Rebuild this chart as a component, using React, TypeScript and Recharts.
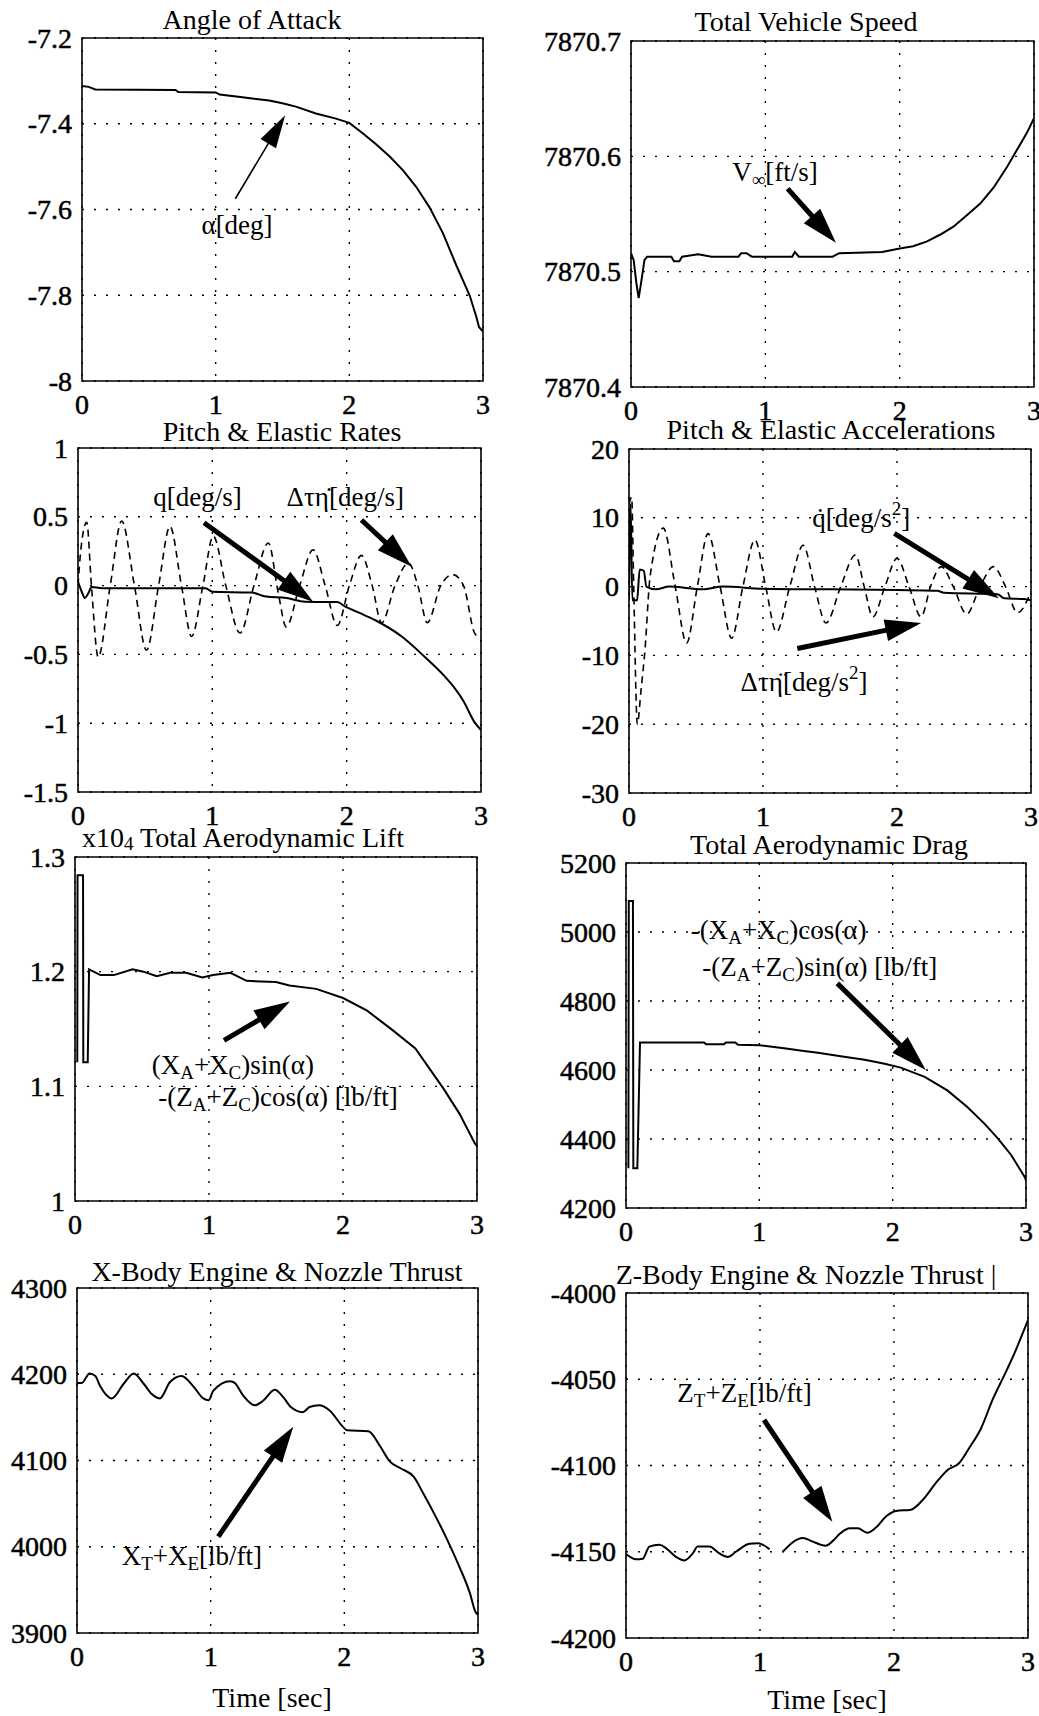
import React from "react";
import {
  LineChart,
  Line,
  XAxis,
  YAxis,
  CartesianGrid,
  ReferenceArea,
  ReferenceLine,
  ReferenceDot,
} from "recharts";

const FONT = '"Liberation Serif", "Times New Roman", serif';
const timeTicks = [0, 1, 2, 3];

// Angle of Attack
const alphaTicks = [-8, -7.8, -7.6, -7.4, -7.2];
const alphaDeg = [
  [0, -7.312], [0.05, -7.314], [0.1, -7.32], [0.7, -7.321], [0.72, -7.326], [1.0, -7.327],
  [1.03, -7.332], [1.2, -7.338], [1.4, -7.346], [1.5, -7.352], [1.6, -7.36], [1.75, -7.376],
  [1.9, -7.388], [2.0, -7.398], [2.1, -7.422], [2.2, -7.448], [2.3, -7.476], [2.4, -7.508],
  [2.5, -7.547], [2.6, -7.595], [2.7, -7.655], [2.8, -7.73], [2.9, -7.8], [2.95, -7.85],
  [2.97, -7.874], [3.0, -7.885],
];

// Total vehicle speed
const speedTicks = [7870.4, 7870.5, 7870.6, 7870.7];
const speed = [
  [0, 7870.516], [0.02, 7870.51], [0.04, 7870.49], [0.057, 7870.477], [0.075, 7870.49],
  [0.1, 7870.51], [0.12, 7870.513], [0.3, 7870.513], [0.32, 7870.509], [0.36, 7870.509],
  [0.38, 7870.513], [0.5, 7870.515], [0.6, 7870.513], [0.8, 7870.513], [0.82, 7870.516],
  [0.86, 7870.516], [0.9, 7870.513], [1.2, 7870.513], [1.22, 7870.517], [1.25, 7870.513],
  [1.5, 7870.513], [1.55, 7870.516], [1.87, 7870.517], [2.0, 7870.52], [2.1, 7870.522],
  [2.2, 7870.526], [2.3, 7870.532], [2.4, 7870.539], [2.5, 7870.549], [2.6, 7870.559],
  [2.7, 7870.573], [2.8, 7870.591], [2.9, 7870.611], [2.95, 7870.621], [3.0, 7870.633],
];

// Pitch & elastic rates
const rateTicks = [-1.5, -1, -0.5, 0, 0.5, 1];
const pitchRate = [
  [0, 0.03], [0.03, -0.05], [0.05, -0.09], [0.08, -0.05], [0.1, -0.01], [0.2, -0.02],
  [0.95, -0.02], [1.0, -0.045], [1.29, -0.05], [1.4, -0.08], [1.55, -0.09], [1.69, -0.117],
  [1.93, -0.12], [1.99, -0.153], [2.1, -0.2], [2.21, -0.25], [2.41, -0.37], [2.58, -0.517],
  [2.73, -0.66], [2.8, -0.74], [2.87, -0.84], [2.95, -0.99], [3.0, -1.05],
];
const elasticRate = [
  [0, 0.0], [0.02, 0.25], [0.065, 0.46], [0.1, 0.0], [0.15, -0.52], [0.24, 0.0], [0.325, 0.47],
  [0.42, 0.0], [0.51, -0.47], [0.6, 0.0], [0.685, 0.43], [0.77, 0.0], [0.846, -0.37],
  [0.93, 0.0], [1.007, 0.36], [1.1, 0.0], [1.206, -0.345], [1.31, 0.0], [1.417, 0.31],
  [1.49, -0.05], [1.55, -0.3], [1.65, 0.0], [1.75, 0.26], [1.84, 0.0], [1.93, -0.29],
  [2.02, 0.0], [2.11, 0.22], [2.19, 0.0], [2.26, -0.27], [2.36, 0.0], [2.46, 0.165],
  [2.53, 0.0], [2.6, -0.27], [2.7, 0.0], [2.79, 0.08], [2.87, 0.0], [2.955, -0.35], [3.0, -0.38],
];

// Pitch & elastic accelerations
const accTicks = [-30, -20, -10, 0, 10, 20];
const pitchAcc = [
  [0, -2], [0.012, 12], [0.025, -2], [0.06, -2], [0.08, 2.5], [0.11, 2.3], [0.13, 0],
  [0.2, -0.4], [0.3, 0], [0.55, -0.4], [0.7, 0], [1.0, -0.3], [1.5, -0.4], [2.0, -0.5],
  [2.3, -0.6], [2.35, -0.9], [2.75, -1.1], [2.8, -1.7], [2.95, -1.8], [3.0, -2.0],
];
const elasticAcc = [
  [0, 12], [0.02, 13], [0.035, 0], [0.062, -20], [0.09, -15], [0.12, -9], [0.157, 1.4],
  [0.256, 8.5], [0.345, 0], [0.43, -8.2], [0.51, 0], [0.59, 7.7], [0.68, 0], [0.766, -7.5],
  [0.85, 0], [0.94, 6.8], [1.02, 0], [1.1, -6.6], [1.2, 0], [1.3, 6.0], [1.385, 0],
  [1.47, -5.3], [1.58, 0], [1.69, 4.6], [1.755, 0], [1.82, -4.4], [1.91, 0], [2.0, 4.1],
  [2.09, 0], [2.18, -4.4], [2.25, 0], [2.33, 2.9], [2.42, 0], [2.52, -4.0], [2.62, 0],
  [2.72, 2.9], [2.81, 0], [2.9, -3.8], [3.0, -0.7],
];

// Total aerodynamic lift (x10^4)
const liftTicks = [1, 1.1, 1.2, 1.3];
const lift = [
  [0.017, 1.121], [0.019, 1.284], [0.06, 1.284], [0.062, 1.121], [0.095, 1.121], [0.105, 1.202],
  [0.19, 1.197], [0.29, 1.197], [0.43, 1.202], [0.51, 1.2], [0.61, 1.196], [0.71, 1.199],
  [0.83, 1.199], [0.95, 1.195], [1.03, 1.197], [1.16, 1.199], [1.28, 1.192], [1.5, 1.191],
  [1.6, 1.188], [1.8, 1.185], [2.0, 1.177], [2.18, 1.166], [2.37, 1.149], [2.54, 1.133],
  [2.75, 1.098], [2.87, 1.076], [2.985, 1.05], [3.0, 1.048],
];

// Total aerodynamic drag
const dragTicks = [4200, 4400, 4600, 4800, 5000, 5200];
const drag = [
  [0.018, 4315], [0.021, 5090], [0.052, 5090], [0.055, 4315], [0.085, 4315], [0.105, 4680],
  [0.585, 4680], [0.6, 4675], [0.735, 4675], [0.75, 4680], [0.82, 4680], [0.84, 4673],
  [1.0, 4672], [1.2, 4662], [1.32, 4656], [1.44, 4650], [1.61, 4640], [1.79, 4630],
  [1.94, 4618], [2.06, 4607], [2.24, 4580], [2.41, 4541], [2.56, 4493], [2.69, 4444],
  [2.79, 4401], [2.89, 4353], [2.99, 4290], [3.0, 4280],
];

// X-body engine & nozzle thrust
const xThrustTicks = [3900, 4000, 4100, 4200, 4300];
const xThrust = [
  [0, 4190], [0.036, 4190], [0.094, 4201], [0.137, 4198], [0.174, 4186], [0.261, 4172],
  [0.349, 4189], [0.424, 4201], [0.499, 4189], [0.559, 4177], [0.62, 4172], [0.696, 4191],
  [0.783, 4198], [0.87, 4186], [0.945, 4172], [0.985, 4170], [1.02, 4181], [1.145, 4192],
  [1.18, 4190], [1.24, 4176], [1.33, 4164], [1.39, 4169], [1.48, 4182], [1.54, 4174],
  [1.6, 4162], [1.69, 4156], [1.74, 4162], [1.81, 4164], [1.89, 4158], [1.99, 4139],
  [2.02, 4135], [2.18, 4134], [2.27, 4116], [2.34, 4099], [2.42, 4091], [2.52, 4081],
  [2.59, 4062], [2.67, 4039], [2.77, 4008], [2.86, 3977], [2.94, 3946], [2.98, 3925], [3.0, 3921],
];

// Z-body engine & nozzle thrust
const zThrustTicks = [-4200, -4150, -4100, -4050, -4000];
const zThrust = [
  [0, -4151.3], [0.075, -4154.4], [0.125, -4154], [0.174, -4147], [0.249, -4146], [0.3, -4148],
  [0.373, -4153], [0.435, -4155], [0.498, -4151], [0.535, -4147], [0.622, -4147], [0.697, -4151],
  [0.76, -4153], [0.82, -4150], [0.92, -4145.4], [0.985, -4145], [1.07, -4148.5], [1.12, null],
  [1.17, -4150], [1.32, -4142], [1.39, -4144], [1.49, -4146.5], [1.54, -4144], [1.6, -4139.3],
  [1.67, -4136.4], [1.73, -4136.4], [1.8, -4139], [1.865, -4136], [1.94, -4129.6],
  [2.015, -4126.4], [2.127, -4125.6], [2.214, -4120], [2.31, -4110.4], [2.4, -4102.6],
  [2.485, -4098.7], [2.56, -4090], [2.65, -4078.4], [2.735, -4062], [2.836, -4045.6],
  [2.91, -4033], [2.96, -4023.4], [3.0, -4015.7],
];

// annotation arrows: [tail, tip]
const alphaArrow = [{ x: 1.147, y: -7.575 }, { x: 1.52, y: -7.38 }];
const speedArrow = [{ x: 1.166, y: 7870.572 }, { x: 1.526, y: 7870.525 }];
const qArrow = [{ x: 0.938, y: 0.457 }, { x: 1.75, y: -0.117 }];
const etaDotArrow = [{ x: 2.11, y: 0.477 }, { x: 2.484, y: 0.137 }];
const qDotArrow = [{ x: 1.98, y: 7.75 }, { x: 2.76, y: -1.7 }];
const etaDdotArrow = [{ x: 1.256, y: -9.0 }, { x: 2.18, y: -5.3 }];
const liftArrow = [{ x: 1.112, y: 1.14 }, { x: 1.604, y: 1.174 }];
const dragArrow = [{ x: 1.585, y: 4851 }, { x: 2.248, y: 4600 }];
const xArrow = [{ x: 1.057, y: 4011.7 }, { x: 1.618, y: 4139 }];
const zArrow = [{ x: 1.03, y: -4073.6 }, { x: 1.54, y: -4132.6 }];

const pts = (a: any[]) => a.map(([t, v]) => ({ t, v }));

const YW = 110;
const MT = 24;
const MR = 14;
const XH = 50;

const yTick = (p: any) => (
  <text
    x={p.x}
    y={p.y}
    textAnchor="end"
    dominantBaseline="central"
    fontFamily={FONT}
    fontSize={28}
    fill="#000"
    stroke="#000"
    strokeWidth={0.5}
  >
    {String(p.payload.value)}
  </text>
);

const xTick = (p: any) => (
  <text
    x={p.x}
    y={p.y + 19}
    textAnchor="middle"
    fontFamily={FONT}
    fontSize={28}
    fill="#000"
    stroke="#000"
    strokeWidth={0.5}
  >
    {String(p.payload.value)}
  </text>
);

const arrow = (w: number, hl: number, hw: number) => (p: any) => {
  const { x1, y1, x2, y2 } = p;
  const dx = x2 - x1;
  const dy = y2 - y1;
  const len = Math.hypot(dx, dy) || 1;
  const ux = dx / len;
  const uy = dy / len;
  const bx = x2 - ux * hl;
  const by = y2 - uy * hl;
  const head = `${x2},${y2} ${bx - uy * hw},${by + ux * hw} ${bx + uy * hw},${by - ux * hw}`;
  return (
    <g>
      <line x1={x1} y1={y1} x2={bx + ux * 2} y2={by + uy * 2} stroke="#000" strokeWidth={w} />
      <polygon points={head} fill="#000" />
    </g>
  );
};
const thick = arrow(5, 36, 11);
const thin = arrow(1.6, 33, 9);

// rich text: parts are [text, shift] where shift moves the baseline (positive = down)
const rich = (parts: [string, number][]) => {
  let cur = 0;
  return parts.map(([s, shift], i) => {
    const dy = shift - cur;
    cur = shift;
    return (
      <tspan key={i} dy={dy} fontSize={shift === 0 ? 27 : 19}>
        {s}
      </tspan>
    );
  });
};

const note = (content: React.ReactNode, anchor: string = "start") => (p: any) => (
  <text
    x={p.cx}
    y={p.cy}
    textAnchor={anchor}
    dominantBaseline="central"
    fontFamily={FONT}
    fontSize={27}
    fill="#000"
  >
    {content}
  </text>
);

function Panel({ box, domain, ticks, children }: any) {
  const w = box.R - box.L;
  const h = box.B - box.T;
  return (
    <div style={{ position: "absolute", left: box.L - YW, top: box.T - MT }}>
      <LineChart
        width={YW + w + MR}
        height={MT + h + XH}
        margin={{ top: MT, right: MR, left: 0, bottom: 0 }}
      >
        <CartesianGrid stroke="#000" strokeDasharray="2 10" strokeWidth={1.4} />
        <XAxis
          type="number"
          dataKey="t"
          domain={[0, 3]}
          ticks={timeTicks}
          interval={0}
          height={XH}
          tickLine={false}
          axisLine={false}
          tickMargin={8}
          tick={xTick}
          allowDataOverflow
        />
        <YAxis
          type="number"
          domain={domain}
          ticks={ticks}
          interval={0}
          width={YW}
          tickLine={false}
          axisLine={false}
          tickMargin={4}
          tick={yTick}
          allowDataOverflow
        />
        {children}
        <ReferenceArea
          x1={0}
          x2={3}
          y1={domain[0]}
          y2={domain[1]}
          fill="none"
          stroke="#000"
          strokeWidth={1.6}
        />
      </LineChart>
    </div>
  );
}

function Caption({ x, y, children }: any) {
  return (
    <div
      style={{
        position: "absolute",
        left: x - 300,
        top: y - 14,
        width: 600,
        textAlign: "center",
        fontFamily: FONT,
        fontSize: 28,
        lineHeight: "28px",
        whiteSpace: "nowrap",
        color: "#000",
      }}
    >
      {children}
    </div>
  );
}

const solid = { stroke: "#000", strokeWidth: 2, dot: false, isAnimationActive: false } as const;
const dashed = {
  stroke: "#000",
  strokeWidth: 1.6,
  strokeDasharray: "7 5",
  dot: false,
  isAnimationActive: false,
} as const;

export default function App() {
  return (
    <div
      style={{
        position: "absolute",
        left: 0,
        top: 0,
        width: 1039,
        height: 1716,
        overflow: "hidden",
        background: "#fff",
      }}
    >
      <Panel box={{ L: 82, T: 38, R: 483, B: 381 }} domain={[-8, -7.2]} ticks={alphaTicks}>
        <Line {...solid} data={pts(alphaDeg)} dataKey="v" type="linear" />
        <ReferenceLine segment={alphaArrow} shape={thin} />
        <ReferenceDot x={1.16} y={-7.636} r={0} shape={note("\u03B1[deg]", "middle")} />
      </Panel>

      <Panel box={{ L: 631, T: 41, R: 1034, B: 387 }} domain={[7870.4, 7870.7]} ticks={speedTicks}>
        <Line {...solid} data={pts(speed)} dataKey="v" type="linear" />
        <ReferenceLine segment={speedArrow} shape={thick} />
        <ReferenceDot
          x={0.754}
          y={7870.586}
          r={0}
          shape={note(rich([["V", 0], ["\u221E", 7], ["[ft/s]", 0]]))}
        />
      </Panel>

      <Panel box={{ L: 78, T: 448, R: 481, B: 792 }} domain={[-1.5, 1]} ticks={rateTicks}>
        <Line {...dashed} data={pts(elasticRate)} dataKey="v" type="monotone" />
        <Line {...solid} data={pts(pitchRate)} dataKey="v" type="monotone" />
        <ReferenceLine segment={qArrow} shape={thick} />
        <ReferenceLine segment={etaDotArrow} shape={thick} />
        <ReferenceDot x={0.56} y={0.646} r={0} shape={note("q[deg/s]")} />
        <ReferenceDot x={1.553} y={0.646} r={0} shape={note("\u0394\u03C4\u03B7\u0307[deg/s]")} />
      </Panel>

      <Panel box={{ L: 629, T: 449, R: 1031, B: 793 }} domain={[-30, 20]} ticks={accTicks}>
        <Line {...dashed} data={pts(elasticAcc)} dataKey="v" type="monotone" />
        <Line {...solid} data={pts(pitchAcc)} dataKey="v" type="monotone" />
        <ReferenceLine segment={qDotArrow} shape={thick} />
        <ReferenceLine segment={etaDdotArrow} shape={thick} />
        <ReferenceDot
          x={1.368}
          y={9.9}
          r={0}
          shape={note(rich([["q\u0307[deg/s", 0], ["2", -10], ["]", 0]]))}
        />
        <ReferenceDot
          x={0.833}
          y={-13.8}
          r={0}
          shape={note(rich([["\u0394\u03C4\u03B7\u0308[deg/s", 0], ["2", -10], ["]", 0]]))}
        />
      </Panel>

      <Panel box={{ L: 75, T: 857, R: 477, B: 1201 }} domain={[1, 1.3]} ticks={liftTicks}>
        <Line {...solid} data={pts(lift)} dataKey="v" type="linear" />
        <ReferenceLine segment={liftArrow} shape={thick} />
        <ReferenceDot
          x={0.572}
          y={1.119}
          r={0}
          shape={note(rich([["(X", 0], ["A", 7], ["+X", 0], ["C", 7], [")sin(\u03B1)", 0]]))}
        />
        <ReferenceDot
          x={0.622}
          y={1.091}
          r={0}
          shape={note(rich([["-(Z", 0], ["A", 7], ["+Z", 0], ["C", 7], [")cos(\u03B1) [lb/ft]", 0]]))}
        />
      </Panel>

      <Panel box={{ L: 626, T: 863, R: 1026, B: 1208 }} domain={[4200, 5200]} ticks={dragTicks}>
        <Line {...solid} data={pts(drag)} dataKey="v" type="linear" />
        <ReferenceLine segment={dragArrow} shape={thick} />
        <ReferenceDot
          x={0.485}
          y={5006}
          r={0}
          shape={note(rich([["-(X", 0], ["A", 7], ["+X", 0], ["C", 7], [")cos(\u03B1)", 0]]))}
        />
        <ReferenceDot
          x={0.572}
          y={4900}
          r={0}
          shape={note(rich([["-(Z", 0], ["A", 7], ["+Z", 0], ["C", 7], [")sin(\u03B1) [lb/ft]", 0]]))}
        />
      </Panel>

      <Panel box={{ L: 77, T: 1288, R: 478, B: 1633 }} domain={[3900, 4300]} ticks={xThrustTicks}>
        <Line {...solid} data={pts(xThrust)} dataKey="v" type="monotone" />
        <ReferenceLine segment={xArrow} shape={thick} />
        <ReferenceDot
          x={0.334}
          y={3989.6}
          r={0}
          shape={note(rich([["X", 0], ["T", 7], ["+X", 0], ["E", 7], ["[lb/ft]", 0]]))}
        />
      </Panel>

      <Panel box={{ L: 626, T: 1293, R: 1028, B: 1638 }} domain={[-4200, -4000]} ticks={zThrustTicks}>
        <Line {...solid} data={pts(zThrust)} dataKey="v" type="monotone" />
        <ReferenceLine segment={zArrow} shape={thick} />
        <ReferenceDot
          x={0.383}
          y={-4058}
          r={0}
          shape={note(rich([["Z", 0], ["T", 7], ["+Z", 0], ["E", 7], ["[lb/ft]", 0]]))}
        />
      </Panel>

      <Caption x={252} y={20}>Angle of Attack</Caption>
      <Caption x={806} y={22}>Total Vehicle Speed</Caption>
      <Caption x={282} y={432}>Pitch &amp; Elastic Rates</Caption>
      <Caption x={831} y={430}>Pitch &amp; Elastic Accelerations</Caption>
      <Caption x={243} y={838}>
        x10<span style={{ fontSize: 19, position: "relative", top: 3 }}>4</span> Total Aerodynamic Lift
      </Caption>
      <Caption x={829} y={845}>Total Aerodynamic Drag</Caption>
      <Caption x={277} y={1272}>X-Body Engine &amp; Nozzle Thrust</Caption>
      <Caption x={806} y={1275}>Z-Body Engine &amp; Nozzle Thrust |</Caption>
      <Caption x={272} y={1698}>Time [sec]</Caption>
      <Caption x={827} y={1700}>Time [sec]</Caption>
    </div>
  );
}
